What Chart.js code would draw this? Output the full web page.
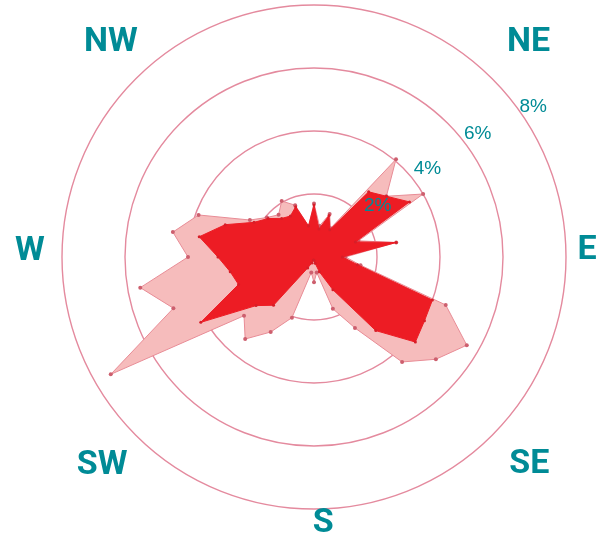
<!DOCTYPE html>
<html>
<head>
<meta charset="utf-8">
<script src="https://cdn.jsdelivr.net/npm/chart.js@4.4.1/dist/chart.umd.min.js"></script>
<style>
  html, body { margin: 0; padding: 0; background: #ffffff; }
  canvas { display: block; }
</style>
</head>
<body>
<canvas id="rose" width="605" height="550"></canvas>
<script>
// ---- data (36 directions, 10° apart, clockwise from North) ----
const directions = [
  'N','10°','20°','30°','40°','50°','60°','70°','80°',
  'E','100°','110°','120°','130°','140°','150°','160°','170°',
  'S','190°','200°','210°','220°','230°','240°','250°','260°',
  'W','280°','290°','300°','310°','320°','330°','340°','350°'
];
// light pink series (% frequency)
const seriesAll = [
  1.70, 1.00, 1.45, 1.05, 4.05, 3.00, 4.00, 1.50, 2.65,
  1.00, 1.50, 4.45, 5.60, 5.05, 4.35, 2.60, 1.75, 0.50,
  0.80, 0.50, 2.05, 2.75, 3.40, 2.90, 7.45, 4.75, 5.60,
  4.00, 4.55, 3.90, 2.35, 1.95, 1.75, 2.05, 1.75, 1.00
];
// dark red series (% frequency)
const seriesStrong = [
  1.65, 0.90, 1.40, 1.00, 2.70, 3.00, 3.50, 1.40, 2.65,
  0.90, 1.40, 4.00, 4.05, 4.20, 3.05, 1.20, 0.50, 0.20,
  0.10, 0.10, 0.20, 0.40, 2.00, 2.40, 4.15, 2.55, 2.70,
  3.05, 3.70, 3.00, 2.20, 1.90, 1.60, 1.50, 1.70, 1.00
];
const tickValues = [2, 4, 6, 8];
const tickLabels = ['2%', '4%', '6%', '8%'];
const compassNames = ['NE', 'E', 'SE', 'S', 'SW', 'W', 'NW'];

// ---- styling / placement (not data) ----
const tickPlacement = [
  { angle: 51, gap: 19 },
  { angle: 52, gap: 18 },
  { angle: 53, gap: 16 },
  { angle: 55.5, gap: 14 }
];
const compassPlacement = {
  NE: { angle: 45, dist: 9.63 },
  E:  { angle: 88.7, dist: 8.67 },
  SE: { angle: 134, dist: 9.5 },
  S:  { angle: 178, dist: 8.45 },
  SW: { angle: 225.5, dist: 9.43 },
  W:  { angle: 271.2, dist: 9.02 },
  NW: { angle: 316.6, dist: 9.39 }
};
const TEAL = 'rgb(0,139,150)';

const labelPlugin = {
  id: 'roseLabels',
  afterDraw(chart) {
    const scale = chart.scales.r;
    const ctx = chart.ctx;
    const cx = scale.xCenter, cy = scale.yCenter;
    const at = (deg, px) => {
      const a = deg * Math.PI / 180;
      return { x: cx + px * Math.sin(a), y: cy - px * Math.cos(a) };
    };
    ctx.save();
    ctx.textAlign = 'center';
    ctx.textBaseline = 'middle';
    // ring value labels
    ctx.fillStyle = TEAL;
    ctx.font = '19px "Liberation Sans", Arial, sans-serif';
    tickValues.forEach((v, i) => {
      const pl = tickPlacement[i];
      const d = scale.getDistanceFromCenterForValue(v) + pl.gap;
      const p = at(pl.angle, d);
      ctx.fillText(tickLabels[i], p.x, p.y);
    });
    // compass labels
    ctx.font = 'bold 34px Roboto, "Liberation Sans", Arial, sans-serif';
    compassNames.forEach(name => {
      const pl = compassPlacement[name];
      const d = scale.getDistanceFromCenterForValue(pl.dist);
      const p = at(pl.angle, d);
      ctx.fillText(name, p.x, p.y);
    });
    ctx.restore();
  }
};

new Chart(document.getElementById('rose'), {
  type: 'radar',
  data: {
    labels: directions,
    datasets: [
      {
        label: 'strong',
        data: seriesStrong,
        fill: true,
        backgroundColor: 'rgb(237,28,36)',
        borderColor: 'rgb(237,28,36)',
        borderWidth: 1,
        pointRadius: 1.5,
        pointBackgroundColor: 'rgb(215,30,40)',
        pointBorderWidth: 0,
        order: 0
      },
      {
        label: 'all',
        data: seriesAll,
        fill: true,
        backgroundColor: 'rgb(246,188,188)',
        borderColor: 'rgb(232,140,150)',
        borderWidth: 1,
        pointRadius: 2,
        pointBackgroundColor: 'rgb(205,95,110)',
        pointBorderWidth: 0,
        order: 1
      }
    ]
  },
  options: {
    responsive: false,
    animation: false,
    devicePixelRatio: 1,
    layout: { padding: { left: 62, right: 39, top: 5, bottom: 41 } },
    elements: { line: { tension: 0 } },
    plugins: {
      legend: { display: false },
      tooltip: { enabled: false }
    },
    scales: {
      r: {
        min: 0,
        max: 8,
        ticks: { stepSize: 2, display: false },
        grid: { circular: true, color: 'rgb(228,138,158)', lineWidth: 1.4 },
        angleLines: { display: false },
        pointLabels: { display: false }
      }
    }
  },
  plugins: [labelPlugin]
});
</script>
</body>
</html>
